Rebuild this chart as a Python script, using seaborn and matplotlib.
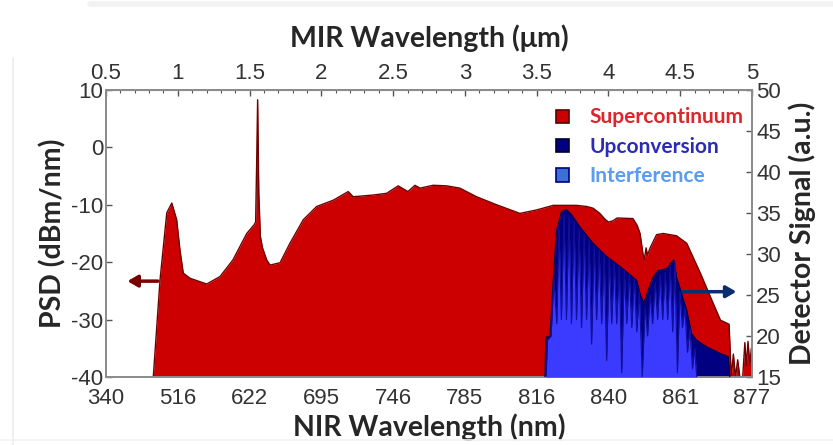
import matplotlib
matplotlib.use("Agg")
import matplotlib.pyplot as plt
import matplotlib.patches as mpatches
import matplotlib.lines as mlines
import seaborn as sns
import pandas as pd

# ----------------------------
# Data
# ----------------------------
# Supercontinuum PSD (dBm/nm) vs MIR wavelength (um)
sc_um = [0.829, 0.876, 0.923, 0.958, 0.992, 1.015, 1.038, 1.085, 1.201, 1.294,
         1.384, 1.480, 1.531, 1.542, 1.549, 1.556, 1.564, 1.575, 1.590, 1.619,
         1.642, 1.712, 1.781, 1.874, 1.967, 2.083, 2.187, 2.222, 2.361, 2.455,
         2.535, 2.603, 2.652, 2.687, 2.779, 2.873, 2.965, 3.081, 3.221, 3.383,
         3.499, 3.615, 3.778, 3.850, 3.893, 3.940, 3.975, 4.000, 4.030, 4.060,
         4.170, 4.200, 4.220, 4.240, 4.250, 4.262, 4.272, 4.290, 4.335, 4.381,
         4.474, 4.545, 4.640, 4.730, 4.780, 4.840, 4.848, 4.855, 4.870, 4.885,
         4.900, 4.915, 4.935, 4.950, 4.960, 4.972, 4.985, 4.995, 5.000]
sc_psd = [-40.0, -23.1, -11.4, -9.7, -12.6, -17.9, -21.9, -22.8, -23.8, -22.5,
          -19.6, -15.0, -13.5, -13.0, -3.0, 8.3, -8.0, -15.5, -17.5, -19.6,
          -20.5, -20.1, -16.7, -12.6, -10.3, -9.2, -7.7, -8.6, -8.3, -8.0,
          -6.7, -7.7, -6.6, -7.1, -6.6, -6.7, -7.1, -8.6, -10.0, -11.5,
          -10.9, -10.1, -10.1, -10.3, -10.6, -11.5, -12.5, -13.0, -12.8, -12.3,
          -12.4, -13.6, -15.0, -18.5, -19.5, -17.5, -18.8, -17.5, -15.2, -15.0,
          -15.4, -16.7, -21.9, -27.2, -30.1, -30.8, -35.5, -40.0, -36.0, -40.0,
          -37.0, -40.0, -40.0, -34.0, -38.0, -33.8, -38.0, -35.0, -40.0]

# Upconversion detector signal envelope (a.u.)
up_um = [3.557, 3.564, 3.592, 3.615, 3.638, 3.673, 3.708, 3.743, 3.801, 3.893,
         3.987, 4.079, 4.196, 4.219, 4.246, 4.276, 4.311, 4.346, 4.404, 4.439,
         4.455, 4.474, 4.509, 4.544, 4.579, 4.613, 4.683, 4.776, 4.834, 4.845]
up_sig = [15.0, 19.9, 19.9, 26.8, 32.9, 35.2, 35.4, 34.8, 33.3, 31.3,
          29.7, 28.5, 26.8, 25.2, 24.0, 25.6, 27.2, 28.0, 28.2, 29.0,
          29.3, 27.2, 25.2, 23.2, 20.3, 19.5, 18.7, 17.9, 17.5, 15.0]

# Interference fringes (a.u.)
if_um = [3.565, 3.575, 3.600, 3.620, 3.640, 3.655, 3.672, 3.690, 3.707, 3.725,
         3.742, 3.760, 3.777, 3.795, 3.812, 3.830, 3.847, 3.865, 3.882, 3.900,
         3.917, 3.935, 3.952, 3.970, 3.987, 4.005, 4.022, 4.040, 4.057, 4.075,
         4.092, 4.110, 4.127, 4.145, 4.162, 4.180, 4.197, 4.215, 4.235, 4.255,
         4.272, 4.290, 4.307, 4.325, 4.342, 4.360, 4.377, 4.395, 4.412, 4.430,
         4.447, 4.462, 4.480, 4.497, 4.515, 4.532, 4.550, 4.567, 4.585, 4.600,
         4.615]
if_sig = [15.0, 19.5, 20.0, 27.0, 21.5, 33.5, 22.0, 34.8, 22.0, 34.6,
          21.5, 34.0, 22.0, 33.0, 21.0, 32.5, 22.0, 31.8, 19.0, 31.0,
          22.0, 30.5, 21.5, 30.0, 17.0, 29.5, 21.5, 29.0, 21.5, 28.5,
          15.5, 28.0, 21.5, 27.5, 21.0, 27.0, 20.5, 25.5, 15.0, 23.5,
          20.0, 25.0, 21.5, 26.5, 22.0, 27.5, 22.0, 27.8, 22.0, 28.5,
          20.5, 29.0, 15.5, 25.5, 21.0, 23.5, 18.0, 21.0, 16.0, 18.5,
          15.0]

# Axis ticks
mir_ticks = [0.5, 1, 1.5, 2, 2.5, 3, 3.5, 4, 4.5, 5]
mir_labels = ["0.5", "1", "1.5", "2", "2.5", "3", "3.5", "4", "4.5", "5"]
nir_labels = ["340", "516", "622", "695", "746", "785", "816", "840", "861", "877"]
psd_ticks = [-40, -30, -20, -10, 0, 10]
det_ticks = [15, 20, 25, 30, 35, 40, 45, 50]

sc = pd.DataFrame({"um": sc_um, "psd": sc_psd})
up = pd.DataFrame({"um": up_um, "sig": up_sig})
fr = pd.DataFrame({"um": if_um, "sig": if_sig})

RED = "#cc0000"
RED_EDGE = "#6e0000"
NAVY = "#000080"
LBLUE = "#3b3bff"

sns.set_style("white")
plt.rcParams["font.family"] = ["Liberation Sans", "DejaVu Sans"]
plt.rcParams["axes.unicode_minus"] = False
label_font = dict(family=["Lato", "DejaVu Sans"], weight="bold", size=20.5)
TICK = 16

fig = plt.figure(figsize=(8.33, 4.45), dpi=100)
ax = fig.add_axes([0.1273, 0.1528, 0.7755, 0.645])

# faint screenshot border lines
fig.add_artist(mlines.Line2D([0.108, 1.0], [0.99, 0.99], color="#f2f2f2", lw=4))
fig.add_artist(mlines.Line2D([0.016, 0.016], [0.0, 0.87], color="#ececec", lw=1.2))
fig.add_artist(mlines.Line2D([0.0, 1.0], [0.012, 0.012], color="#f2f2f2", lw=1.2))

# ----------------------------
# Supercontinuum (left axis)
# ----------------------------
ax.fill_between(sc["um"], sc["psd"], -40, color=RED, lw=0, zorder=2)
sns.lineplot(data=sc, x="um", y="psd", ax=ax, color=RED_EDGE, lw=1.0,
             sort=False, estimator=None, zorder=3)
ax.set_xlim(0.5, 5.0)
ax.set_ylim(-40, 10)
ax.set_yticks(psd_ticks)
ax.set_xticks(mir_ticks)
ax.set_xticklabels(nir_labels)
ax.set_xlabel("NIR Wavelength (nm)", labelpad=3, **label_font)
ax.set_ylabel("PSD (dBm/nm)", labelpad=3, **label_font)
ax.tick_params(axis="x", direction="in", length=4, width=1, color="#555555",
               labelsize=TICK, labelcolor="#333333", pad=8)
ax.tick_params(axis="y", direction="in", length=4, width=1, color="#555555",
               labelsize=TICK, labelcolor="#333333", pad=2)

# ----------------------------
# Upconversion + interference (right axis)
# ----------------------------
ax2 = ax.twinx()
ax2.fill_between(up["um"], up["sig"], 15, color=NAVY, lw=0, zorder=2)
sns.lineplot(data=up, x="um", y="sig", ax=ax2, color="#000050", lw=0.8,
             sort=False, estimator=None, zorder=3)
ax2.fill_between(fr["um"], fr["sig"], 15, color=LBLUE, lw=0, zorder=4)
sns.lineplot(data=fr, x="um", y="sig", ax=ax2, color="#10109a", lw=0.8,
             sort=False, estimator=None, zorder=5)
ax2.set_ylim(15, 50)
ax2.set_yticks(det_ticks)
ax2.set_xlim(0.5, 5.0)
ax2.set_ylabel("Detector Signal (a.u.)", labelpad=5, **label_font)
ax2.tick_params(axis="y", direction="in", length=4, width=1, color="#555555",
                labelsize=TICK, labelcolor="#333333", pad=3)

# ----------------------------
# Top MIR axis
# ----------------------------
top = ax.secondary_xaxis("top")
top.set_xticks(mir_ticks)
top.set_xticklabels(mir_labels)
top.set_xticks([t / 10 for t in range(5, 51)], minor=True)
top.tick_params(which="major", direction="in", length=4, width=1, color="#555555",
                labelsize=TICK, labelcolor="#333333", pad=4)
top.tick_params(which="minor", direction="in", length=2.5, width=0.8, color="#555555")
top.set_xlabel("MIR Wavelength (\u03bcm)", labelpad=12, **label_font)

for a in (ax, ax2):
    for s in a.spines.values():
        s.set_color("#8c8c8c")
        s.set_linewidth(1.3)
top.spines["top"].set_color("#8c8c8c")

# ----------------------------
# Axis arrows
# ----------------------------
ax.annotate("", xy=(0.63, -23.3), xytext=(0.88, -23.3),
            arrowprops=dict(arrowstyle="-|>,head_length=0.6,head_width=0.35",
                            color="#7a0000", lw=2.5), zorder=6)
ax2.annotate("", xy=(4.91, 25.4), xytext=(4.50, 25.4),
             arrowprops=dict(arrowstyle="-|>,head_length=0.6,head_width=0.35",
                             color="#0a2f6e", lw=2.5), zorder=6)

# ----------------------------
# Legend
# ----------------------------
handles = [mpatches.Patch(facecolor=RED, edgecolor="#5a0000", lw=1.2),
           mpatches.Patch(facecolor=NAVY, edgecolor="#000030", lw=1.2),
           mpatches.Patch(facecolor="#3a70d8", edgecolor="#000080", lw=1.2)]
leg = ax2.legend(handles, ["Supercontinuum", "Upconversion", "Interference"],
                 loc="upper right", bbox_to_anchor=(1.0, 0.968), frameon=False,
                 handlelength=0.6, handleheight=0.6, handletextpad=1.0,
                 labelspacing=0.45, borderaxespad=0.0,
                 prop=dict(family=["Lato", "DejaVu Sans"], weight="bold", size=15))
for txt, col in zip(leg.get_texts(), ["#e0242a", "#2b2bb8", "#5b9cf0"]):
    txt.set_color(col)

fig.savefig("out.png", dpi=100)
plt.close(fig)
